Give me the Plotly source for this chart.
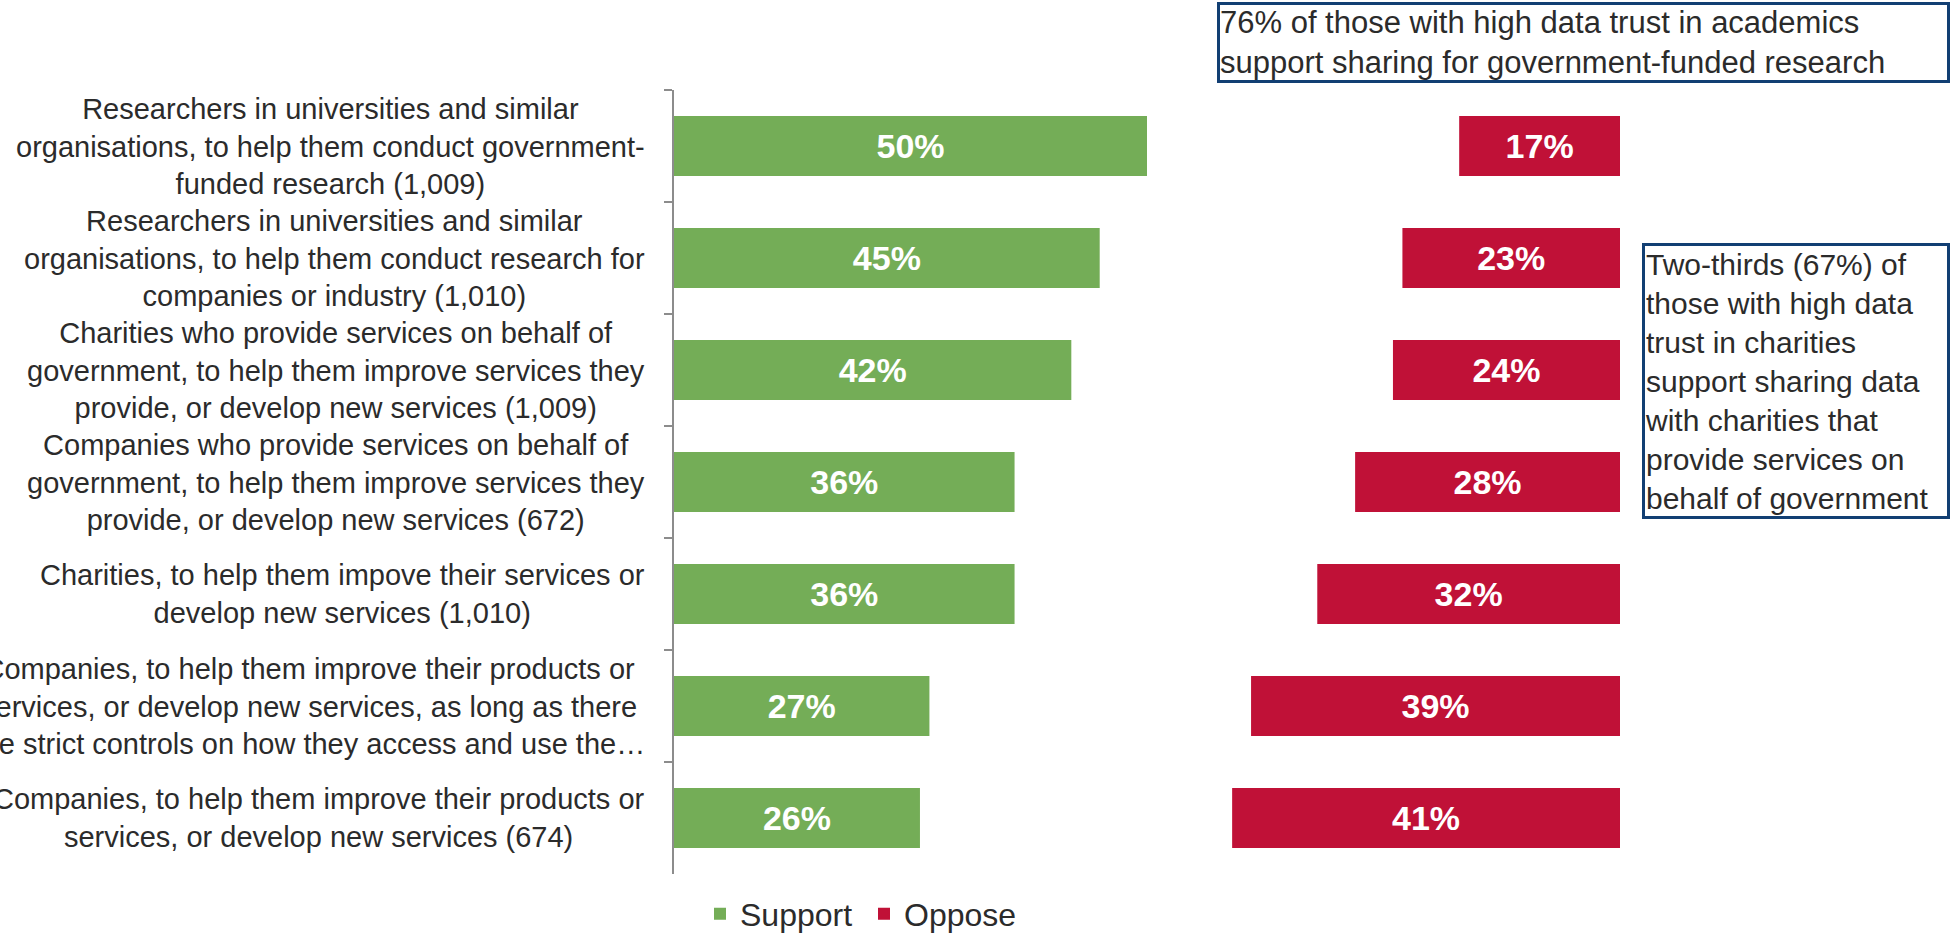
import plotly.graph_objects as go

# Survey results: share who support / oppose sharing data with each type of organisation
categories = [
    "Researchers in universities and similar<br>organisations, to help them conduct government-<br>funded research (1,009)",
    "Researchers in universities and similar<br>organisations, to help them conduct research for<br>companies or industry (1,010)",
    "Charities who provide services on behalf of<br>government, to help them improve services they<br>provide, or develop new services (1,009)",
    "Companies who provide services on behalf of<br>government, to help them improve services they<br>provide, or develop new services (672)",
    "Charities, to help them impove their services or<br>develop new services (1,010)",
    "Companies, to help them improve their products or<br>services, or develop new services, as long as there<br>are strict controls on how they access and use the…",
    "Companies, to help them improve their products or<br>services, or develop new services (674)",
]
support = [50, 45, 42, 36, 36, 27, 26]
oppose = [17, 23, 24, 28, 32, 39, 41]

note_academics = "76% of those with high data trust in academics<br>support sharing for government-funded research"
note_charities = ("Two-thirds (67%) of<br>those with high data<br>trust in charities<br>support sharing data"
                  "<br>with charities that<br>provide services on<br>behalf of government")

GREEN = "#74AD57"
RED = "#C01137"
NAVY = "#123F73"
TEXT = "#2B2B2B"
FONT = "Liberation Sans, Arial, sans-serif"

W, H = 1955, 937
L, R, T, B = 674, 335, 90, 63
plot_w = W - L - R
plot_h = H - T - B


def px_x(px):
    return (px - L) / plot_w


def px_y(py):
    return (H - B - py) / plot_h


fig = go.Figure()

fig.add_trace(go.Bar(
    name="Support",
    y=categories,
    x=support,
    base=[0] * len(support),
    orientation="h",
    marker=dict(color=GREEN, line=dict(width=0)),
    texttemplate="%{x}%",
    textposition="inside",
    insidetextanchor="middle",
    constraintext="none",
    textfont=dict(family=FONT, size=34, color="white", weight="bold"),
))

# Oppose bars end at 100%, the gap between the two series being the remainder
fig.add_trace(go.Bar(
    name="Oppose",
    y=categories,
    x=oppose,
    base=[100 - v for v in oppose],
    orientation="h",
    marker=dict(color=RED, line=dict(width=0)),
    texttemplate="%{x}%",
    textposition="inside",
    insidetextanchor="middle",
    constraintext="none",
    textfont=dict(family=FONT, size=34, color="white", weight="bold"),
))

# Category labels, centred line by line, right-aligned against the axis
for cat in categories:
    fig.add_annotation(
        x=0, xref="paper", y=cat, yref="y",
        text=cat, showarrow=False,
        xanchor="right", yanchor="middle", align="center",
        xshift=-27,
        font=dict(family=FONT, size=29, color=TEXT),
    )

# Call-out boxes
fig.add_annotation(
    x=px_x(1217), xref="paper", y=px_y(2), yref="paper",
    text=note_academics, showarrow=False,
    xanchor="left", yanchor="top", align="left", valign="middle",
    width=727, height=75,
    bordercolor=NAVY, borderwidth=3, borderpad=0,
    bgcolor="white",
    font=dict(family=FONT, size=31, color=TEXT),
)
fig.add_annotation(
    x=px_x(1642), xref="paper", y=px_y(243), yref="paper",
    text=note_charities, showarrow=False,
    xanchor="left", yanchor="top", align="left", valign="middle",
    width=302, height=270,
    bordercolor=NAVY, borderwidth=3, borderpad=0,
    bgcolor="white",
    font=dict(family=FONT, size=30, color=TEXT),
)

fig.update_layout(
    width=W, height=H,
    margin=dict(l=L, r=R, t=T, b=B, autoexpand=False),
    paper_bgcolor="white",
    plot_bgcolor="white",
    barmode="overlay",
    bargap=0.464,
    showlegend=True,
    legend=dict(
        orientation="h",
        x=px_x(700), xanchor="left",
        y=px_y(914), yanchor="middle",
        entrywidth=119, entrywidthmode="pixels",
        font=dict(family=FONT, size=32, color=TEXT),
        bgcolor="rgba(0,0,0,0)",
    ),
    font=dict(family=FONT, color=TEXT),
)

fig.update_xaxes(range=[0, 100], visible=False, fixedrange=True)
fig.update_yaxes(
    autorange="reversed",
    showticklabels=False,
    showline=True, linecolor="#8C8C8C", linewidth=1.5,
    ticks="outside", tickson="boundaries", ticklen=8, tickcolor="#8C8C8C", tickwidth=1.5,
    showgrid=False, zeroline=False,
)

fig.write_html("out.html")
